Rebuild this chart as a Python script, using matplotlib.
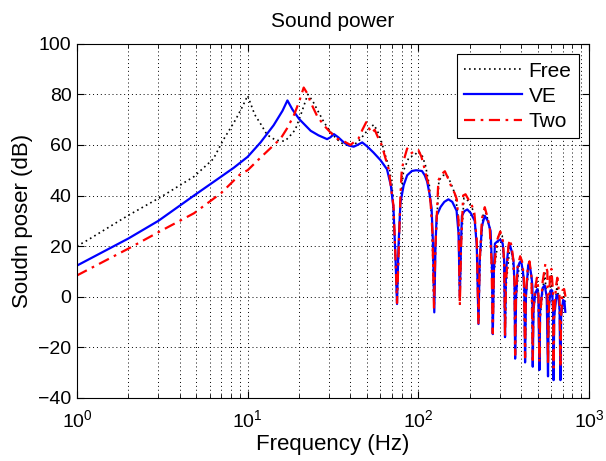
import matplotlib
matplotlib.use('Agg')
import matplotlib.pyplot as plt
import numpy as np

plt.rcParams['font.family'] = ['Liberation Sans', 'DejaVu Sans']
plt.rcParams['mathtext.default'] = 'regular'

# Free (black dotted)
free_f = [1, 1.15, 1.98, 3.1, 4.85, 6.3, 7.2, 8.5, 9.3, 10, 11, 12, 13, 14.5, 15.6, 16.5, 17.4,
          19, 20.5, 22.5, 24, 26, 28, 30, 33, 36, 40, 44, 48, 52, 55, 58, 61, 64, 68, 71, 73.5,
          75, 76.5, 79, 82, 88, 95, 100, 105, 110, 116, 120, 123.5, 126, 132, 140, 147, 155, 165,
          172, 175, 178, 185, 195, 210, 220, 225, 230, 240, 250, 262, 268, 273, 278, 295, 310,
          318, 322, 327, 345, 358, 366, 369, 374, 390, 402, 415, 422, 427, 445, 460, 468, 473,
          495, 505, 512, 517, 550, 570, 575, 580, 600, 615, 620, 625, 650, 672, 680, 686, 710, 727]
free_db = [20, 22.3, 32, 39.4, 47.5, 54.5, 62, 70, 75, 79.5, 72, 68, 64, 62, 61.6, 61.5, 63,
           66, 72, 80, 77.5, 73, 69, 66, 62.5, 60.5, 59.5, 61, 64, 67, 68, 65, 61, 56, 50, 40, 15,
           -2, 15, 40, 50, 55, 56, 57.5, 56, 52, 44, 30, -4, 20, 46, 48, 48, 45, 40,
           30, -3, 20, 39, 38, 34, 22, -10, 15, 33, 33, 27, 15, -14, 10, 24, 24,
           12, -15, 5, 21, 14, 5, -23, 0, 13, 14, 7, -25, 0, 13, 8, -26, -5,
           6, 2, -27, -8, 10, -5, -29, -8, 9, -4, -30, -8, 5, -5, -30, -8, 0, -2]

# VE (blue solid)
ve_f = [1, 2, 3, 4.85, 7, 8.3, 10, 11.9, 14.2, 16, 17.1, 18.3, 20, 23.4, 26, 29.2, 30.5, 32, 34,
        36.6, 39, 41.8, 44, 46.9, 50, 54.6, 60, 65.5, 69, 71.5, 73.5, 75, 76.5, 78.5, 82, 86,
        91.6, 97, 105, 109, 112.6, 116, 119.6, 122, 124, 126, 128, 135, 142, 150, 158, 167.5,
        172, 175, 178, 180, 186, 193.5, 203, 214, 220, 225, 229, 236, 245, 255, 265, 270, 273,
        277, 281, 292, 302, 312, 318, 322, 326, 337, 345, 355, 361, 366, 369, 374, 382, 392,
        400, 410, 418, 422, 427, 440, 448, 460, 466, 468, 473, 485, 497, 505, 512, 517, 535,
        550, 565, 575, 580, 595, 608, 615, 620, 625, 645, 660, 672, 680, 686, 705, 718, 726]
ve_db = [12.3, 23, 30, 40, 47.5, 51, 55.3, 61, 67.8, 73.5, 77.6, 74, 70.3, 65.6, 63.8, 62.3, 63,
         64.3, 63, 61, 59.8, 59.3, 60, 61, 59.5, 57, 54, 50.4, 44, 35, 15, -2.9, 20, 37, 44, 48,
         49.7, 50, 49.7, 48, 45.5, 41, 35, 20, -6.2, 20, 32, 35.5, 37.5, 38.5, 37.5, 34,
         25, 0, 22, 32, 33.8, 34.5, 33, 30, 20, -10.8, 15, 28, 32, 30, 26, 12, -14.8,
         10, 21, 22, 22.6, 21, 15, -16, 10, 19.4, 20.2, 17, 14, 5, -24.5, 0, 11.6, 13.5,
         14, 10, 3, -26, 0, 12.5, 13, 8, 4, -27.7, -5, 1.5, 3, 0, -29, -5, 3.5,
         4.5, 0, -31.5, -5, 2.5, 2.5, -5, -33, -8, 0.7, 0.5, -5, -33, -8, -1.3, -2, -6]

# Two (red dash-dot)
two_f = [1, 2, 3, 4.85, 7, 9.1, 10, 11.9, 13.5, 15.6, 17, 18.6, 20, 21.3, 22.3, 23.4, 25.5, 28,
         30.5, 33.4, 36.5, 40, 44.6, 47, 49.5, 51.5, 53.3, 55.5, 58, 61, 64, 67, 69.5, 71.5,
         73.5, 75, 76.5, 78.5, 80, 83, 86, 90, 95, 100, 104, 107, 110, 114, 118, 121, 123.5,
         126, 131, 137, 143, 150, 157, 163, 168, 172, 175, 178, 183, 189, 196, 205, 213, 220,
         225, 229, 236, 245, 255, 262, 268, 273, 277, 288, 302, 313, 319, 322, 326, 337, 343,
         352, 361, 366, 369, 373, 382, 395, 405, 415, 422, 426, 438, 448, 460, 468, 472, 485,
         495, 505, 512, 517, 535, 555, 570, 575, 580, 590, 602, 615, 620, 625, 640, 652, 672,
         680, 686, 700, 715, 728]
two_db = [8.4, 19, 25.5, 33, 41, 48.6, 50, 55, 58.5, 62.5, 66.5, 71.5, 77, 82.7, 80.5, 76.8,
          71.5, 67.7, 65, 62.5, 61.5, 60, 62.5, 66, 69, 66.5, 64.7, 66, 63, 60, 55, 50.5, 42, 36,
          15, -2.5, 15, 40, 50.4, 55, 58.6, 56.5, 57.6, 58, 55.5, 52.5, 49, 45, 37, 25, -5,
          20, 46, 48.5, 49.6, 46.5, 43, 41, 38.5, 30, -3.6, 20, 40, 40.5, 38.6, 36.5, 33, 22,
          -10.5, 15, 31, 35.4, 31, 27, 15, -14.5, 10, 22, 25.8, 22, 12, -16, 5, 20, 22.6,
          20, 14, 5, -23, 0, 12, 16, 14, 8, -24, 0, 12, 14, 8, -25, -5, 4,
          7.5, 3, -26, -8, 6, 13, 10, -27, -8, 8, 11, 2, -28, -8, 4, 7.5, 0,
          -28, -8, 2.6, 3, 0]

fig = plt.figure(figsize=(6.06, 4.61), dpi=100)
ax = fig.add_axes([0.127, 0.137, 0.845, 0.768])

ax.semilogx(free_f, free_db, color='k', linestyle=(0, (1, 2)), linewidth=1.2, label='Free')
ax.semilogx(ve_f, ve_db, color='#0000ff', linestyle='-', linewidth=1.6, label='VE')
ax.semilogx(two_f, two_db, color='#ff0000', linestyle=(0, (5, 2.5, 1.2, 2.5)), linewidth=1.6, label='Two')

ax.set_xlim(1, 1000)
ax.set_ylim(-40, 100)
ax.set_yticks(np.arange(-40, 101, 20))
ax.grid(True, which='both', axis='x', linestyle=(0, (1, 3)), color='k', linewidth=0.7)
ax.grid(True, which='major', axis='y', linestyle=(0, (1, 3)), color='k', linewidth=0.7)
ax.tick_params(which='both', direction='in', top=True, right=True, labelsize=14)
ax.tick_params(which='major', length=5)
ax.tick_params(which='minor', length=3)
ax.tick_params(axis='x', which='both', pad=8)
ax.tick_params(axis='y', which='both', pad=4)
for s in ax.spines.values():
    s.set_linewidth(0.8)

ax.set_title('Sound power', fontsize=15, pad=12)
ax.set_xlabel('Frequency (Hz)', fontsize=16, labelpad=2)
ax.set_ylabel('Soudn poser (dB)', fontsize=16)

leg = ax.legend(loc='upper right', fontsize=15, fancybox=False, framealpha=1, edgecolor='k',
                handlelength=2.8, borderaxespad=0.5, handletextpad=0.3, labelspacing=0.3,
                borderpad=0.35)
leg.get_frame().set_linewidth(0.8)

fig.savefig('out.png', dpi=100)
